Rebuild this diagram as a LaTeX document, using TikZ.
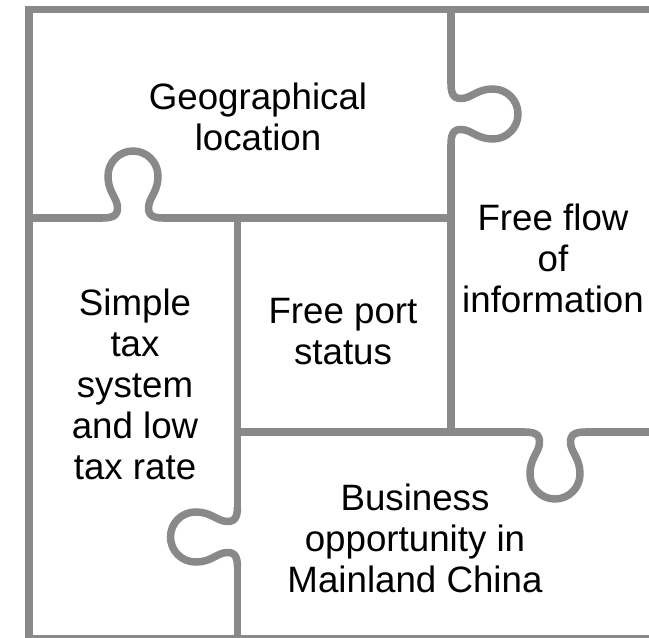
\documentclass[tikz,border=0pt]{standalone}
\usepackage{fontspec}
\setmainfont{Liberation Sans}
\definecolor{piecegray}{RGB}{137,137,137}
\tikzset{
  puzzle/.style={draw=piecegray, line width=7.5pt, line cap=butt, line join=miter},
  label/.style={align=center, text=black, inner sep=0pt,
    font=\fontsize{36.7}{41}\selectfont},
  % a puzzle tab on a straight edge running along the local x axis,
  % bulging towards local +y
  knob/.pic={
    \draw[puzzle] (-30,0) .. controls (-18,0) and (-14,4) .. (-16,14)
       .. controls (-18,22) and (-25,28) .. (-25,42)
       arc[start angle=180, end angle=0, radius=25pt]
       .. controls (25,28) and (18,22) .. (16,14)
       .. controls (14,4) and (18,0) .. (30,0);
  }
}
\begin{document}
\begin{tikzpicture}[x=1pt, y=1pt]
  \useasboundingbox (0,0) rectangle (649,638);
  \clip (0,0) rectangle (649,638);
  \fill[white] (0,0) rectangle (649,638);

  % outer frame
  \draw[puzzle] (660,628.5) -- (29,628.5) -- (29,-0.75) -- (660,-0.75);

  % lower edge of the top piece, tab upwards
  \draw[puzzle] (29,420) -- (103,420);
  \pic at (133,420) {knob};
  \draw[puzzle] (163,420) -- (451,420);

  % right edge of the top piece, tab to the right
  \draw[puzzle] (451,628.5) -- (451,554);
  \pic[rotate=-90] at (451,524) {knob};
  \draw[puzzle] (451,494) -- (451,206);

  % edge between the left column and the middle pieces, tab to the left
  \draw[puzzle] (237.5,420) -- (237.5,131);
  \pic[rotate=90] at (237.5,101) {knob};
  \draw[puzzle] (237.5,71) -- (237.5,-0.75);

  % upper edge of the bottom piece, tab downwards
  \draw[puzzle] (237.5,206) -- (525,206);
  \pic[rotate=180] at (555,206) {knob};
  \draw[puzzle] (585,206) -- (660,206);

  % piece captions
  \node[label] (geo)  at (258,521) {Geographical\\location};
  \node[label] (flow) at (553,380) {Free flow\\of\\information};
  \node[label] (tax)  at (135,254) {Simple\\tax\\system\\and low\\tax rate};
  \node[label] (port) at (343,306) {Free port\\status};
  \node[label] (biz)  at (415,100) {Business\\opportunity in\\Mainland China};
\end{tikzpicture}
\end{document}
